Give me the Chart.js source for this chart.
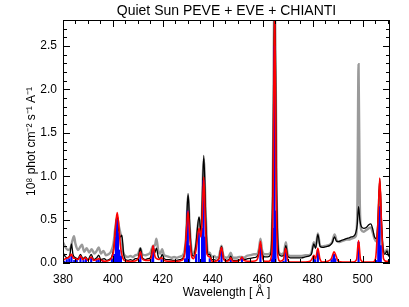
<!DOCTYPE html>
<html>
<head>
<meta charset="utf-8">
<script src="https://cdn.jsdelivr.net/npm/chart.js@4.4.0/dist/chart.umd.min.js"></script>
<style>
  html, body { margin: 0; padding: 0; background: #fff; }
</style>
</head>
<body>
<canvas id="spec" width="409" height="307"></canvas>
<script>
// observed spectrum (grey)
const grayWl = [380,381,382,383,383.8,384.4,385,386,387,387.6,388.5,389.5,390.5,391.5,392.5,393.5,394.3,395.2,396.2,397.2,398.2,399.2,
  400.2,401,401.7,402.4,403.3,404.2,405,406,407,408,409,410,411,411.8,413,414,415,416.1,416.8,417.4,418.2,419,419.7,420.5,421.5,422.5,
  423.5,424.5,425.5,426.5,427.5,428.5,429.3,430.1,430.8,431.5,432.3,433.2,434.5,435.3,436.4,437.2,438,438.8,439.5,440.5,441.5,442.5,
  443.5,444.3,445.5,446.5,447.2,448,449.5,450.5,451.7,452.5,453.5,455,456.5,457.5,458.5,459.1,459.8,460.8,462,463.2,464,464.8,465.6,
  466.5,467.5,468.5,469.3,470,471,472.5,474,475.5,477,478.5,479.5,480.5,481.2,482.1,483,484,485.5,486.8,487.8,488.8,489.6,490.5,491.5,
  492.5,493.5,494.5,495.5,496.5,497.3,497.9,498.4,498.9,499.5,500.5,501.5,502.5,503.3,504,504.8,505.5,506.2,506.9,507.5,508.3,509,
  509.8,510.4,511];
const grayVal = [0.24,0.18,0.15,0.17,0.26,0.31,0.22,0.15,0.19,0.21,0.13,0.17,0.12,0.16,0.11,0.14,0.18,0.11,0.14,0.09,0.10,0.13,
  0.22,0.42,0.53,0.42,0.30,0.12,0.08,0.07,0.08,0.07,0.09,0.10,0.17,0.10,0.09,0.10,0.12,0.20,0.20,0.28,0.14,0.11,0.16,0.09,0.08,0.07,
  0.06,0.07,0.06,0.07,0.08,0.12,0.30,0.77,0.40,0.15,0.11,0.20,0.52,0.35,1.20,0.55,0.12,0.12,0.07,0.08,0.06,0.08,
  0.20,0.08,0.06,0.08,0.12,0.06,0.06,0.07,0.07,0.06,0.08,0.09,0.10,0.10,0.16,0.28,0.14,0.10,0.10,0.12,0.80,3.30,0.80,
  0.12,0.10,0.12,0.24,0.10,0.08,0.08,0.08,0.08,0.09,0.09,0.12,0.24,0.18,0.34,0.20,0.19,0.20,0.21,0.24,0.33,0.26,0.24,0.25,
  0.26,0.27,0.27,0.28,0.29,0.31,0.60,2.29,0.70,0.38,0.36,0.38,0.40,0.41,0.36,0.28,0.25,0.40,0.85,0.35,0.15,0.12,
  0.16,0.10,0.12];

// observed spectrum (black)
const blackWl = [380,381,382,382.8,383.4,384,385,386,387,388,389,390,391.3,392.3,393.5,394.3,395.2,396.5,397.5,398.5,399.5,
  400.5,401,401.7,402.3,403,403.6,404.3,405,406,407,408,409,410,411,411.8,413,414,415,416.1,416.8,417.4,418.2,419,419.7,420.5,
  421.5,422.5,424,425.5,427,428.5,429.3,430.1,430.8,431.5,432.3,433.2,434.5,435.3,436.4,437.2,438,438.8,439.5,440.5,441.5,442.5,
  443.5,444.3,445.5,446.5,447.2,448,449.5,451,451.7,452.5,454,456,457.5,458.5,459.1,459.8,460.8,462,463.2,464,464.8,465.6,
  466.5,467.5,468.5,469.3,470,471,472.5,474,475.5,477,478.5,479.5,480.5,481.2,482.1,483,484,485.5,486.8,487.8,488.8,489.6,
  490.5,491.5,492.5,493.5,494.5,495.5,496.5,497.3,497.9,498.4,498.9,499.5,500.5,501.5,502.5,503.3,504,504.8,505.5,506.2,
  506.9,507.5,508.3,509,509.8,510.4,511];
const blackVal = [0.12,0.07,0.06,0.10,0.22,0.10,0.06,0.05,0.10,0.05,0.07,0.04,0.10,0.04,0.06,0.09,0.04,0.05,0.03,0.04,0.07,
  0.20,0.38,0.55,0.38,0.30,0.32,0.10,0.04,0.03,0.04,0.03,0.05,0.05,0.17,0.06,0.04,0.05,0.06,0.19,0.12,0.17,0.07,0.05,0.10,0.05,
  0.04,0.04,0.03,0.03,0.04,0.08,0.30,0.80,0.40,0.12,0.08,0.20,0.53,0.35,1.24,0.50,0.10,0.10,0.04,0.04,0.03,0.05,
  0.19,0.05,0.03,0.04,0.08,0.03,0.03,0.04,0.05,0.04,0.05,0.06,0.07,0.12,0.22,0.10,0.07,0.07,0.10,0.80,3.10,0.80,
  0.10,0.08,0.09,0.20,0.08,0.06,0.06,0.06,0.06,0.07,0.08,0.10,0.22,0.17,0.33,0.19,0.18,0.19,0.20,0.23,0.30,0.25,
  0.25,0.26,0.27,0.28,0.29,0.30,0.31,0.35,0.45,0.65,0.50,0.42,0.40,0.41,0.44,0.45,0.40,0.30,0.28,0.50,
  0.97,0.55,0.15,0.10,0.14,0.08,0.10];

// CHIANTI spectrum convolved to instrument resolution (red)
const redWl = [380,381,382,382.8,383.4,384,385,386,387,388,389,390,391.3,392.3,393.5,394.3,395.5,397,398.5,399.5,400.3,401,
  401.7,402.3,403,403.7,404.5,406,408,409.5,410.3,411,411.7,413,414.5,415.5,416.1,416.8,417.5,418.5,419.5,420.5,422,424,426,
  427.5,428.7,429.4,430.1,430.8,431.5,432.3,433.3,434.5,435.3,435.8,436.4,437,437.7,438.8,439.8,441,442.5,443.5,444.3,445.5,
  446.5,447.2,448,450,451,451.7,452.5,454,456,457.5,458.4,459.1,459.8,460.8,462.5,463.6,464.2,464.8,465.4,466,467,468.3,469.2,
  470,471,473,475,477,479,479.8,480.5,481.2,482.1,482.9,484,486,487.5,488.6,489.4,490.3,492,494,496,497.6,498.4,499.2,500.5,
  502,504,505.2,506.2,506.9,507.6,508.4,509.5,510.5,511];
const redVal = [0.03,0.05,0.06,0.08,0.10,0.06,0.05,0.04,0.08,0.04,0.06,0.03,0.07,0.03,0.04,0.05,0.03,0.02,0.03,0.06,0.15,0.40,
  0.58,0.45,0.20,0.08,0.03,0.02,0.02,0.03,0.06,0.13,0.05,0.03,0.03,0.08,0.20,0.08,0.05,0.04,0.06,0.03,0.02,0.02,0.02,
  0.03,0.10,0.35,0.60,0.30,0.08,0.05,0.15,0.40,0.30,0.55,0.99,0.50,0.10,0.07,0.02,0.02,0.05,0.18,0.05,0.02,
  0.03,0.06,0.02,0.02,0.04,0.07,0.03,0.02,0.02,0.03,0.10,0.25,0.08,0.02,0.02,0.10,0.90,3.00,0.90,0.10,0.02,0.04,0.17,
  0.04,0.01,0.01,0.01,0.01,0.02,0.05,0.09,0.05,0.17,0.05,0.01,0.02,0.05,0.13,0.08,0.02,0.01,0.01,0.01,0.04,0.26,0.04,0.01,
  0.01,0.01,0.05,0.50,0.98,0.45,0.05,0.02,0.02,0.02];

// CHIANTI line list (blue sticks)
const blueWl = [380.5,381.5,382.5,383.4,384.5,385.5,387,388.2,389.2,391.3,393.5,394.3,396,399.6,400.5,401.2,401.6,402,402.6,403.2,
  410.5,411,415.8,416.1,419.5,423,428.9,429.6,430,430.5,433.3,434.4,435.7,436.3,436.8,438.8,442.5,443.5,447.2,451.7,459.1,
  463.7,464.2,464.7,465.1,468.3,469.2,480.4,481,482.1,487.6,488.3,488.6,489.1,498.4,505.5,506.3,506.8,507.3,510.3];
const blueVal = [0.02,0.04,0.05,0.08,0.03,0.04,0.07,0.03,0.05,0.06,0.03,0.04,0.02,0.05,0.10,0.30,0.50,0.35,0.15,0.08,
  0.03,0.12,0.05,0.19,0.04,0.02,0.05,0.25,0.60,0.20,0.10,0.35,0.40,0.95,0.30,0.05,0.03,0.16,0.04,0.06,0.20,
  0.05,0.40,2.50,0.60,0.02,0.15,0.06,0.04,0.15,0.04,0.06,0.10,0.05,0.24,0.03,0.45,0.65,0.20,0.02];

const xMajor = [380, 400, 420, 440, 460, 480, 500];
const yMajor = [0.0, 0.5, 1.0, 1.5, 2.0, 2.5];

const FONT = '"Liberation Sans", Arial, sans-serif';

function toPoints(wl, val) {
    return wl.map((w, i) => ({ x: w, y: val[i] }));
}

// IDL style frame: box, inward ticks on every side, titles
const framePlugin = {
    id: 'frame',
    afterDraw(chart) {
        const ctx = chart.ctx;
        const a = chart.chartArea;
        const xs = chart.scales.x;
        const ys = chart.scales.y;
        ctx.save();
        ctx.strokeStyle = '#000';
        ctx.lineWidth = 1;
        ctx.strokeRect(a.left + 0.5, a.top + 0.5, a.right - a.left - 1, a.bottom - a.top - 1);

        ctx.beginPath();
        for (let w = 380; w <= 511; w += 5) {
            const px = Math.round(xs.getPixelForValue(w)) + 0.5;
            const len = xMajor.includes(w) ? 7 : 4;
            ctx.moveTo(px, a.bottom); ctx.lineTo(px, a.bottom - len);
            ctx.moveTo(px, a.top); ctx.lineTo(px, a.top + len);
        }
        for (let k = 0; k <= 28; k++) {
            const py = Math.round(ys.getPixelForValue(k / 10)) + 0.5;
            const len = (k % 5 === 0) ? 7 : 4;
            ctx.moveTo(a.left, py); ctx.lineTo(a.left + len, py);
            ctx.moveTo(a.right, py); ctx.lineTo(a.right - len, py);
        }
        ctx.stroke();

        ctx.fillStyle = '#000';
        ctx.textAlign = 'center';
        ctx.font = '14px ' + FONT;
        ctx.fillText('Quiet Sun PEVE + EVE + CHIANTI', (a.left + a.right) / 2, 15);

        ctx.font = '12px ' + FONT;
        ctx.fillText('Wavelength [ Å ]', (a.left + a.right) / 2, 296);

        ctx.translate(35, (a.top + a.bottom) / 2);
        ctx.rotate(-Math.PI / 2);
        ctx.fillText('10⁸ phot cm⁻² s⁻¹ A⁻¹', 0, 0);
        ctx.restore();
    }
};

const lineStyle = {
    type: 'line',
    pointRadius: 0,
    fill: false,
    backgroundColor: 'transparent',
    cubicInterpolationMode: 'monotone',
    clip: 0
};

new Chart(document.getElementById('spec').getContext('2d'), {
    data: {
        datasets: [
            Object.assign({}, lineStyle, {
                label: 'CHIANTI',
                data: toPoints(redWl, redVal),
                borderColor: '#ff0000',
                borderWidth: 1.6
            }),
            {
                type: 'bar',
                label: 'lines',
                data: toPoints(blueWl, blueVal),
                backgroundColor: '#0000ff',
                barThickness: 1.5,
                grouped: false,
                clip: 0
            },
            Object.assign({}, lineStyle, {
                label: 'EVE',
                data: toPoints(blackWl, blackVal),
                borderColor: '#000000',
                borderWidth: 1.3
            }),
            Object.assign({}, lineStyle, {
                label: 'PEVE',
                data: toPoints(grayWl, grayVal),
                borderColor: '#9a9a9a',
                borderWidth: 2.4
            })
        ]
    },
    options: {
        responsive: false,
        animation: false,
        devicePixelRatio: 1,
        layout: { padding: { top: 20, right: 19, left: 0, bottom: 0 } },
        plugins: {
            legend: { display: false },
            tooltip: { enabled: false }
        },
        scales: {
            x: {
                type: 'linear',
                min: 380,
                max: 511,
                offset: false,
                grid: { display: false, drawTicks: false },
                border: { display: false },
                afterBuildTicks: scale => {
                    scale.ticks = xMajor.map(v => ({ value: v }));
                },
                afterFit: scale => { scale.height = 44; },
                ticks: {
                    padding: 9,
                    maxRotation: 0,
                    autoSkip: false,
                    color: '#000',
                    font: { family: FONT, size: 12 }
                }
            },
            y: {
                min: 0,
                max: 2.8,
                grid: { display: false, drawTicks: false },
                border: { display: false },
                afterBuildTicks: scale => {
                    scale.ticks = yMajor.map(v => ({ value: v }));
                },
                afterFit: scale => { scale.width = 63; },
                ticks: {
                    padding: 6,
                    color: '#000',
                    font: { family: FONT, size: 12 },
                    callback: value => value.toFixed(1)
                }
            }
        }
    },
    plugins: [framePlugin]
});
</script>
</body>
</html>
